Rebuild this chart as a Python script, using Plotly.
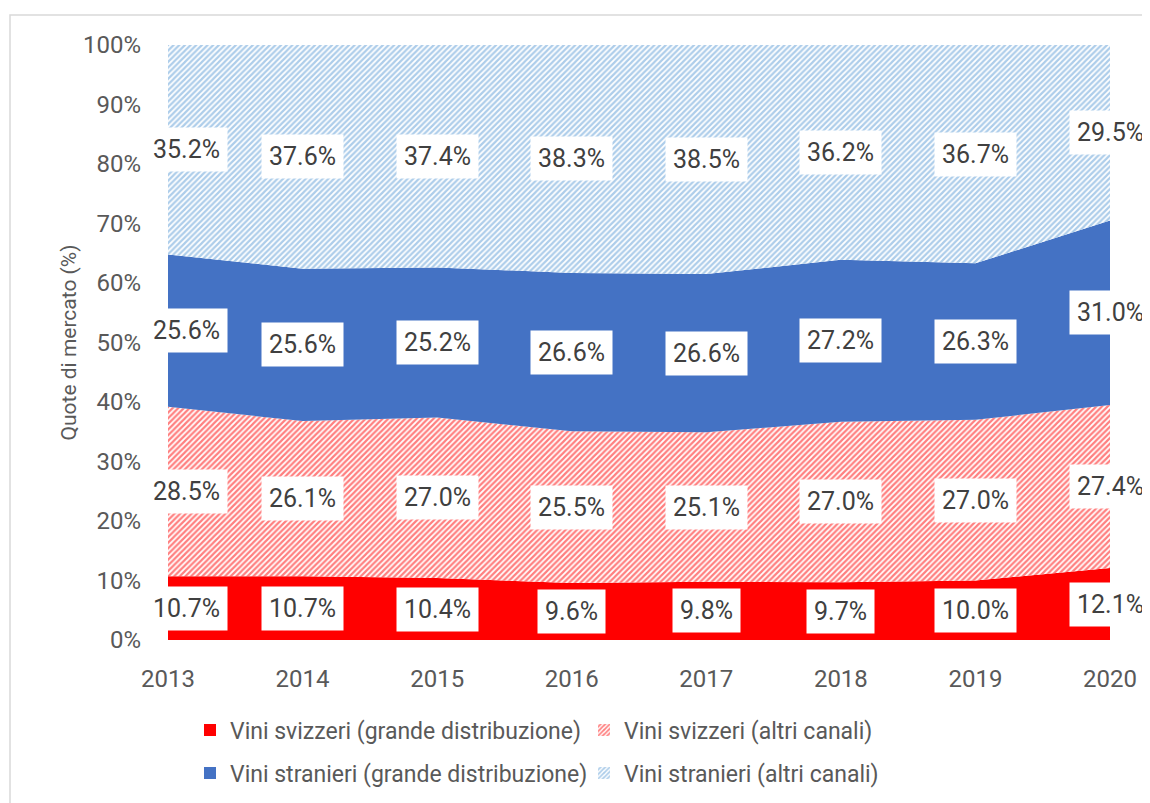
import plotly.graph_objects as go

years = [2013, 2014, 2015, 2016, 2017, 2018, 2019, 2020]
svizzeri_gd = [10.7, 10.7, 10.4, 9.6, 9.8, 9.7, 10.0, 12.1]
svizzeri_altri = [28.5, 26.1, 27.0, 25.5, 25.1, 27.0, 27.0, 27.4]
stranieri_gd = [25.6, 25.6, 25.2, 26.6, 26.6, 27.2, 26.3, 31.0]
stranieri_altri = [35.2, 37.6, 37.4, 38.3, 38.5, 36.2, 36.7, 29.5]
y_ticks = list(range(0, 101, 10))
y_ticktext = [f"{v}%" for v in y_ticks]

names = ["Vini svizzeri (grande distribuzione)", "Vini svizzeri (altri canali)",
         "Vini stranieri (grande distribuzione)", "Vini stranieri (altri canali)"]
series = [svizzeri_gd, svizzeri_altri, stranieri_gd, stranieri_altri]
legends = ["legend", "legend", "legend2", "legend2"]

FONT = "Liberation Sans Narrow, Roboto"
TXT = "#595959"

RED, BLUE, LBLUE = "#FF0000", "#4472C4", "#5B9BD5"
pat_red = dict(shape="/", fgcolor=RED, bgcolor="white", size=4, solidity=0.55)
pat_blue = dict(shape="/", fgcolor=LBLUE, bgcolor="white", size=4, solidity=0.55)
area_styles = [
    dict(fillcolor=RED),
    dict(fillcolor="white", fillpattern=pat_red),
    dict(fillcolor=BLUE),
    dict(fillcolor="white", fillpattern=pat_blue),
]
legend_markers = [
    dict(color=RED),
    dict(color="white", pattern=dict(shape="/", fgcolor=RED, bgcolor="white", size=4, solidity=0.55)),
    dict(color=BLUE),
    dict(color="white", pattern=dict(shape="/", fgcolor=LBLUE, bgcolor="white", size=4, solidity=0.55)),
]

fig = go.Figure()
for name, vals, st in zip(names, series, area_styles):
    fig.add_trace(go.Scatter(x=years, y=vals, name=name, mode="none", stackgroup="one",
                             line=dict(width=0), hoverinfo="skip", showlegend=False, **st))
# legend-only entries (square swatches)
for name, mk, lg in zip(names, legend_markers, legends):
    fig.add_trace(go.Bar(x=[years[0]], y=[0], name=name, marker=dict(line=dict(width=0), **mk),
                         legend=lg, hoverinfo="skip", showlegend=True))

# labels at band midpoints
cum = [0.0] * len(years)
for vals in series:
    for i, (yr, v) in enumerate(zip(years, vals)):
        mid = cum[i] + v / 2
        xs = 18 if i == 0 else 0
        fig.add_annotation(x=yr, y=mid, xref="x", yref="y", text=f"{v:.1f}%", showarrow=False,
                           font=dict(family=FONT, size=25, color="#404040"),
                           bgcolor="white", borderpad=7, xshift=xs)
    cum = [c + v for c, v in zip(cum, vals)]

OFF = 8  # page body margin
W, H = 1150, 803
PL, PR, PT, PB = 168, 1110, 45, 640  # desired plot area in screenshot pixels
L, T = PL - OFF, PT - OFF
R = W - (PR - OFF)
B = H - (PB - OFF)
pw, ph = PR - PL, PB - PT

def px(x):
    return (x - PL) / pw

def py(y):
    return (PB - y) / ph

fig.add_shape(type="rect", xref="paper", yref="paper",
              x0=px(10), x1=px(1170), y0=py(830), y1=py(15),
              line=dict(color="#D9D9D9", width=1.5), fillcolor="rgba(0,0,0,0)", layer="below")

leg_common = dict(orientation="h", xanchor="left", yanchor="middle",
                  entrywidth=349, entrywidthmode="pixels", traceorder="normal",
                  font=dict(family=FONT, size=23, color=TXT), itemwidth=30,
                  bgcolor="rgba(0,0,0,0)")

fig.update_layout(
    width=W, height=H, margin=dict(l=L, r=R, t=T, b=B),
    paper_bgcolor="white", plot_bgcolor="white",
    font=dict(family=FONT, size=22, color=TXT),
    showlegend=True, barmode="overlay",
    legend=dict(x=px(190), y=py(730), **leg_common),
    legend2=dict(x=px(190), y=py(773), **leg_common),
    xaxis=dict(range=[2013, 2020], tickvals=years, showgrid=False, zeroline=False, showline=False,
               ticks="", ticklabelstandoff=22, tickfont=dict(size=24)),
    yaxis=dict(range=[0, 100], tickmode="array", tickvals=y_ticks, ticktext=y_ticktext, showgrid=False,
               zeroline=False, showline=False, ticks="", ticklabelstandoff=26, tickfont=dict(size=24),
               title=dict(text="Quote di mercato (%)", font=dict(size=21, color=TXT), standoff=0)),
)

fig.write_html("out.html")
